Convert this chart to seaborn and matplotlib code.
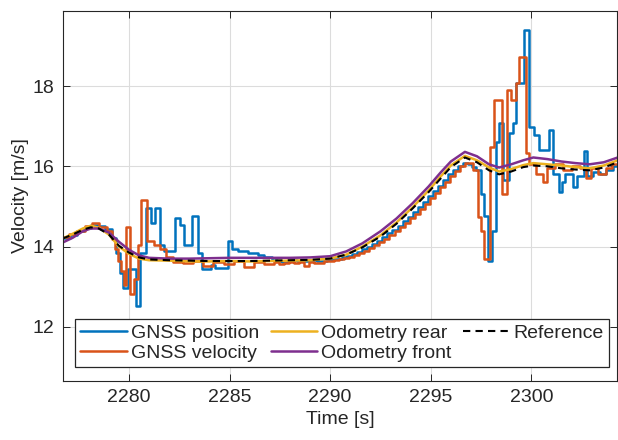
import numpy as np
import pandas as pd
import matplotlib
matplotlib.use('Agg')
import matplotlib.pyplot as plt
import seaborn as sns

# values
# GNSS position (stair steps)
t_pos = [2276.70, 2277.05, 2277.40, 2277.75, 2278.10, 2278.45, 2278.80, 2279.15, 2279.35, 2279.55,
         2279.70, 2279.95, 2280.35, 2280.55, 2280.85, 2281.10, 2281.30, 2281.55, 2281.75, 2282.30,
         2282.55, 2282.75, 2283.15, 2283.45, 2283.65, 2284.10, 2284.30, 2284.93, 2285.10, 2285.40,
         2285.90, 2286.40, 2286.70,
         2287.10, 2287.35, 2287.60, 2287.85, 2288.10, 2288.35, 2288.60, 2288.85, 2289.10, 2289.35,
         2289.60, 2289.85, 2290.10, 2290.35, 2290.60, 2290.85, 2291.10, 2291.35, 2291.60, 2291.85,
         2292.10, 2292.35, 2292.60, 2292.85, 2293.10, 2293.35, 2293.60, 2293.85, 2294.10, 2294.35,
         2294.60, 2294.85, 2295.10, 2295.35, 2295.60, 2295.85, 2296.10, 2296.35, 2296.60, 2296.85,
         2297.05, 2297.25, 2297.50, 2297.67, 2297.83, 2298.03, 2298.24,
         2298.41, 2298.58, 2298.87, 2299.07, 2299.24, 2299.49, 2299.65, 2299.87, 2300.15, 2300.40,
         2300.90, 2301.06, 2301.39, 2301.55, 2301.70, 2302.05, 2302.25, 2302.60, 2302.78, 2303.05,
         2303.40, 2303.70, 2304.05, 2304.30]
v_pos = [14.22, 14.30, 14.38, 14.47, 14.55, 14.52, 14.45, 14.22, 13.85, 13.35,
         12.98, 13.45, 12.52, 13.85, 14.95, 14.60, 14.95, 14.05, 13.90, 14.70,
         14.55, 14.05, 14.75, 13.85, 13.45, 13.55, 13.47, 14.15, 13.95, 13.90,
         13.85, 13.80, 13.74,
         13.66, 13.63, 13.62, 13.64, 13.66, 13.63, 13.63, 13.65, 13.66, 13.64,
         13.65, 13.67, 13.68, 13.70, 13.73, 13.77, 13.82, 13.87, 13.93, 14.00,
         14.07, 14.15, 14.24, 14.33, 14.42, 14.52, 14.63, 14.74, 14.86, 14.98,
         15.12, 15.25, 15.38, 15.52, 15.66, 15.80, 15.92, 16.02, 16.08, 16.05,
         15.98, 15.90, 15.30, 14.75, 13.65, 14.40, 16.60,
         17.07, 15.65, 16.82, 17.07, 18.07, 18.07, 19.40, 16.98, 16.77, 16.40,
         16.90, 15.82, 15.36, 15.60, 15.80, 15.48, 15.75, 16.38, 15.75, 15.85,
         15.80, 15.90, 16.02, 16.05]

# GNSS velocity (stair steps)
t_vel = [2276.70, 2277.00, 2277.40, 2277.80, 2278.15, 2278.50, 2278.90, 2279.15, 2279.30, 2279.45,
         2279.60, 2279.75, 2279.85, 2280.05, 2280.25, 2280.45, 2280.62, 2280.87, 2281.25, 2281.55,
         2281.85, 2282.20, 2282.70, 2283.20, 2283.70, 2284.20, 2284.70, 2285.20, 2285.70, 2286.20,
         2286.70,
         2287.20, 2287.45, 2287.70, 2287.95, 2288.20, 2288.45, 2288.70, 2288.95, 2289.20, 2289.45,
         2289.70, 2289.95, 2290.20, 2290.45, 2290.70, 2290.95, 2291.20, 2291.45, 2291.70, 2291.95,
         2292.20, 2292.45, 2292.70, 2292.95, 2293.20, 2293.45, 2293.70, 2293.95, 2294.20, 2294.45,
         2294.70, 2294.95, 2295.20, 2295.45, 2295.70, 2295.95, 2296.20, 2296.45, 2296.70,
         2297.09, 2297.33, 2297.50, 2297.67, 2297.95, 2298.17, 2298.54, 2298.77, 2298.99,
         2299.24, 2299.37, 2299.73, 2299.90, 2300.23, 2300.56, 2300.80, 2301.20, 2301.60, 2302.00,
         2302.40, 2302.70, 2302.95, 2303.30, 2303.70, 2304.00, 2304.30]
v_vel = [14.25, 14.32, 14.40, 14.52, 14.58, 14.50, 14.38, 14.20, 13.95, 13.65,
         13.40, 13.05, 14.48, 12.82, 13.20, 14.05, 15.17, 14.15, 14.05, 13.95,
         13.75, 13.62, 13.58, 13.65, 13.52, 13.62, 13.56, 13.63, 13.50, 13.62,
         13.57,
         13.61, 13.57, 13.60, 13.62, 13.58, 13.61, 13.52, 13.62, 13.60, 13.58,
         13.63, 13.64, 13.66, 13.68, 13.71, 13.75, 13.79, 13.84, 13.90, 13.96,
         14.03, 14.11, 14.20, 14.29, 14.38, 14.48, 14.59, 14.70, 14.82, 14.94,
         15.07, 15.20, 15.34, 15.48, 15.62, 15.76, 15.89, 16.00, 16.08,
         15.90, 14.73, 14.40, 13.69, 16.48, 17.65, 15.32, 17.90, 17.65,
         18.07, 18.73, 16.32, 16.07, 15.80, 15.60, 15.95, 16.05, 15.90, 16.00,
         15.95, 15.72, 15.95, 15.80, 15.95, 16.05, 16.10]

# smooth signals
t_smooth = [2276.7, 2277.2, 2277.7, 2278.1, 2278.5, 2279.0, 2279.5, 2280.0, 2280.5, 2281.0,
            2282.0, 2283.0, 2284.0, 2285.0, 2286.0, 2287.0, 2288.0, 2289.0, 2290.0, 2290.8,
            2291.6, 2292.5, 2293.3, 2294.1, 2294.9, 2295.5, 2296.0, 2296.7, 2297.3, 2297.9,
            2298.4, 2299.0, 2299.6, 2300.1, 2300.8, 2301.5, 2302.2, 2302.9, 2303.6, 2304.3]
v_rear = [14.20, 14.32, 14.45, 14.52, 14.47, 14.30, 14.00, 13.82, 13.70, 13.66,
          13.65, 13.63, 13.63, 13.64, 13.63, 13.64, 13.65, 13.66, 13.70, 13.80,
          14.00, 14.28, 14.60, 14.98, 15.40, 15.75, 16.02, 16.26, 16.15, 15.97,
          15.87, 15.93, 16.03, 16.08, 16.05, 16.02, 15.98, 15.95, 16.02, 16.15]
v_front = [14.10, 14.22, 14.38, 14.45, 14.45, 14.35, 14.12, 13.92, 13.78, 13.72,
           13.70, 13.70, 13.71, 13.72, 13.72, 13.72, 13.72, 13.73, 13.76, 13.88,
           14.08, 14.38, 14.70, 15.08, 15.50, 15.85, 16.12, 16.36, 16.25, 16.05,
           15.97, 16.05, 16.15, 16.22, 16.18, 16.12, 16.08, 16.05, 16.10, 16.22]
v_ref = [14.20, 14.30, 14.42, 14.48, 14.45, 14.30, 14.02, 13.85, 13.73, 13.68,
         13.66, 13.65, 13.64, 13.64, 13.64, 13.65, 13.66, 13.67, 13.70, 13.80,
         13.98, 14.25, 14.57, 14.95, 15.36, 15.70, 15.98, 16.22, 16.10, 15.90,
         15.80, 15.87, 15.98, 16.02, 16.00, 15.95, 15.92, 15.90, 15.97, 16.10]

sns.set_theme(style='ticks')
plt.rcParams['font.family'] = ['Liberation Sans', 'DejaVu Sans']
txt = '#262626'
fs = 14

fig = plt.figure(figsize=(6.18, 4.40), dpi=100)
ax = fig.add_axes([0.102, 0.134, 0.896, 0.841])

lw = 1.8
sns.lineplot(x=t_pos, y=v_pos, ax=ax, color='#0072BD', lw=lw, drawstyle='steps-post',
             estimator=None, label='GNSS position')
sns.lineplot(x=t_vel, y=v_vel, ax=ax, color='#D95319', lw=lw, drawstyle='steps-post',
             estimator=None, label='GNSS velocity')
sns.lineplot(x=t_smooth, y=v_rear, ax=ax, color='#EDB120', lw=lw, estimator=None,
             label='Odometry rear')
sns.lineplot(x=t_smooth, y=v_front, ax=ax, color='#7E2F8E', lw=lw, estimator=None,
             label='Odometry front')
sns.lineplot(x=t_smooth, y=v_ref, ax=ax, color='black', lw=1.5, estimator=None,
             dashes=False, linestyle=(0, (3.5, 2.5)), label='Reference')

ax.set_xlim(2276.72, 2304.25)
ax.set_ylim(10.65, 19.87)
ax.set_xticks([2280, 2285, 2290, 2295, 2300])
ax.set_yticks([12, 14, 16, 18])
ax.grid(True, color='#dcdcdc', lw=0.8)
ax.set_axisbelow(True)
ax.tick_params(direction='in', length=5, width=0.7, colors=txt, labelsize=fs,
               top=True, right=True, pad=6)
for s in ax.spines.values():
    s.set_color(txt)
    s.set_linewidth(0.8)
ax.set_xlabel('Time [s]', fontsize=fs, color=txt, labelpad=3)
ax.set_ylabel('Velocity [m/s]', fontsize=fs, color=txt, labelpad=3)

leg = ax.legend(ncol=3, loc='lower left', bbox_to_anchor=(0.022, 0.038), fontsize=fs,
                frameon=True, fancybox=False, edgecolor='#262626', framealpha=1,
                handlelength=2.4, handletextpad=0.2, columnspacing=0.6,
                labelspacing=0.15, borderpad=0.25, borderaxespad=0)
leg.get_frame().set_linewidth(0.9)

fig.savefig('out.png', dpi=100)
